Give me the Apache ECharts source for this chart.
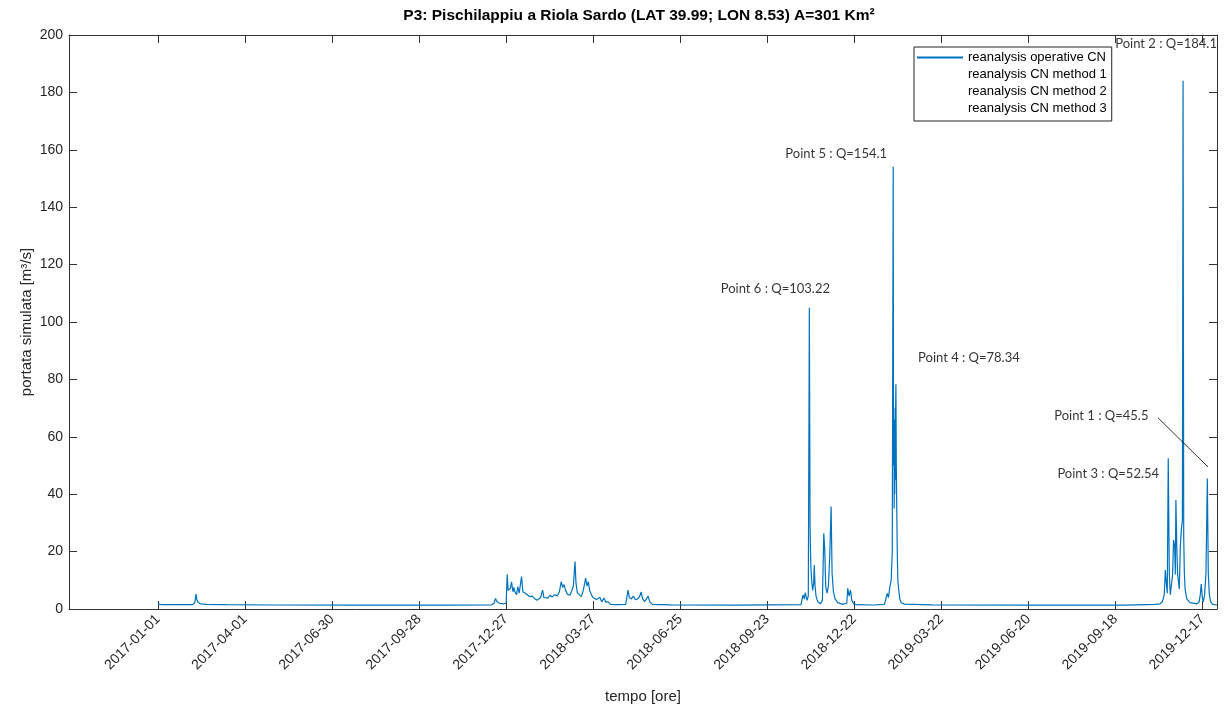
<!DOCTYPE html>
<html>
<head>
<meta charset="utf-8">
<script src="https://cdn.jsdelivr.net/npm/echarts@6/dist/echarts.min.js"></script>
<style>html,body{margin:0;padding:0;background:#fff}#c{width:1228px;height:711px}</style>
</head>
<body>
<div id="c"></div>
<script>
// hours since 2017-01-01 00:00
const hours = [0,120,864,912,946,965,996,1056,1200,1680,2880,4800,7200,8280,8340,8376,8412,8472,8568,8640,8666,8688,8707,8748,8774,8808,8832,8856,8899,8930,8964,9022,9055,9106,9163,9228,9288,9346,9413,9461,9494,9545,9576,9624,9677,9727,9785,9842,9910,9960,10008,10042,10075,10116,10159,10224,10272,10308,10349,10373,10406,10454,10505,10555,10613,10646,10680,10711,10754,10795,10836,10879,10920,10968,11011,11069,11117,11167,11234,11400,11606,11664,11698,11748,11798,11846,11897,11947,11988,12029,12079,12120,12163,12204,12269,12720,14400,15958,16006,16039,16063,16106,16138,16164,16181,16193,16205,16222,16246,16272,16286,16306,16330,16373,16438,16488,16522,16546,16570,16603,16637,16670,16704,16728,16762,16802,16870,16992,17093,17117,17150,17184,17218,17268,17323,17760,18029,18079,18096,18127,18163,18194,18221,18245,18254,18262,18269,18276,18283,18290,18298,18305,18312,18322,18329,18346,18360,18386,18410,18442,18526,19200,21600,24000,24739,24864,24922,24955,24972,24998,25022,25046,25070,25097,25121,25152,25178,25202,25229,25246,25260,25286,25303,25320,25344,25370,25394,25421,25438,25454,25471,25488,25529,25613,25781,25838,25865,25889,25915,25939,25973,26006,26040,26064,26090,26124,26172,26279];
const flow = [1.6,1.5,1.5,2.2,5.2,3.2,2.3,1.8,1.6,1.5,1.4,1.35,1.35,1.45,2.0,3.7,2.6,2.0,1.8,2.0,12.1,6.5,6.0,7.3,9.5,6.0,7.5,6.0,5.0,7.8,5.5,11.3,6.0,5.6,5.0,4.3,4.5,3.6,3.1,3.6,4.0,6.6,4.0,4.6,3.8,4.8,4.2,5.0,4.5,6.0,9.5,7.5,8.5,6.5,5.2,4.8,6.5,8.0,16.5,9.0,5.7,5.0,4.3,6.5,10.8,8.0,9.5,6.5,5.0,4.0,4.5,3.3,2.8,4.0,2.5,3.8,2.3,2.6,1.6,1.5,1.6,6.6,4.0,3.5,4.5,3.2,3.5,4.2,5.9,3.5,2.6,3.0,4.5,2.5,1.6,1.45,1.35,1.5,4.9,3.5,5.7,3.0,4.5,105,30,19.5,14,10,6.5,9,15.3,8,4.5,2.5,1.8,3,26.4,20.6,7.8,5.5,8,18.2,35.7,12.5,6,3.5,2.2,1.6,2.0,7.2,4.5,6.6,3.0,1.8,1.5,1.4,1.6,4.5,5.4,4.0,7.8,10,19.5,154.1,50,70,35,62,40,66,45,70,78.34,50,40,20,10,6,3.5,2.2,1.7,1.45,1.35,1.35,1.6,1.8,2.5,4.0,5.4,13.6,9,5.5,52.54,12,5,5.5,12,24,21.7,12,38,19.5,12,10,7,21.7,27.5,31,184.1,25,12,7,3.5,2.2,1.8,2.5,5,8.7,4,2.5,5,12.4,45.5,12.5,5,2.5,1.6,1.4];

const tickHours = [0,2160,4320,6480,8640,10800,12960,15120,17280,19440,21600,23760,25920];
const tickLabels = ['2017-01-01','2017-04-01','2017-06-30','2017-09-28','2017-12-27','2018-03-27','2018-06-25','2018-09-23','2018-12-22','2019-03-22','2019-06-20','2019-09-18','2019-12-17'];
const yTicks = [0,20,40,60,80,100,120,140,160,180,200];

const seriesNames = ['reanalysis operative CN','reanalysis CN method 1','reanalysis CN method 2','reanalysis CN method 3'];

const annNames = ['Point 1','Point 2','Point 3','Point 4','Point 5','Point 6'];
const annHours = [26040,25438,25070,18312,18245,16164];
const annValues = [45.5,184.1,52.54,78.34,154.1,103.22];
const annOffsets = [[-106,-63],[-17,-37],[-60,16],[73,-26],[-57,-13],[-34,-24]];
// leader line for Point 1: [hours, value] pairs
const leaderStart = [24817, 66.6];
const leaderEnd = [26057, 49.5];

const lineData = hours.map((h,i)=>[h, flow[i]]);
const annData = annNames.map((n,i)=>({
  value:[annHours[i], annValues[i]],
  name:n,
  label:{offset:annOffsets[i]}
}));

const axisColor = '#333333';
const tickFont = {fontFamily:'Liberation Sans', fontSize:14, color:'#262626'};
const chart = echarts.init(document.getElementById('c'), null, {renderer:'canvas'});
chart.setOption({
  animation:false,
  backgroundColor:'#ffffff',
  title:{
    text:'P3: Pischilappiu a Riola Sardo (LAT 39.99; LON 8.53) A=301 Km²',
    left:634, textAlign:'center', top:3,
    textStyle:{fontFamily:'Liberation Sans', fontWeight:'bold', fontSize:15.5, color:'#000'}
  },
  legend:{
    data:seriesNames,
    orient:'vertical',
    left:914, top:47,
    itemWidth:46, itemHeight:14, itemGap:4,
    padding:[4,5,6,2],
    borderColor:'#222', borderWidth:1,
    backgroundColor:'#fff',
    itemStyle:{opacity:0},
    textStyle:{fontFamily:'Liberation Sans', fontSize:13, color:'#000'}
  },
  grid:{left:69, right:11, top:35, bottom:102, containLabel:false, outerBoundsMode:'none'},
  xAxis:[{
    type:'value', min:-2208, max:26280,
    name:'tempo [ore]', nameLocation:'middle', nameGap:80, nameMoveOverlap:false,
    nameTextStyle:{fontFamily:'Liberation Sans', fontSize:15, color:'#262626'},
    axisLine:{show:true, onZero:false, lineStyle:{color:axisColor, width:1}},
    axisTick:{show:true, inside:true, length:8, customValues:tickHours, lineStyle:{color:axisColor}},
    axisLabel:Object.assign({show:true, customValues:tickHours, rotate:45, margin:8,
      formatter:(v)=>{const i=tickHours.indexOf(v); return i>=0?tickLabels[i]:'';}}, tickFont),
    splitLine:{show:false}
  },{
    type:'value', min:-2208, max:26280, position:'top',
    axisLine:{show:true, onZero:false, lineStyle:{color:axisColor, width:1}},
    axisTick:{show:true, inside:true, length:8, customValues:tickHours, lineStyle:{color:axisColor}},
    axisLabel:{show:false},
    splitLine:{show:false}
  }],
  yAxis:[{
    type:'value', min:0, max:200, interval:20,
    name:'portata simulata [m³/s]', nameLocation:'middle', nameGap:35, nameMoveOverlap:false,
    nameTextStyle:{fontFamily:'Liberation Sans', fontSize:15, color:'#262626'},
    axisLine:{show:true, onZero:false, lineStyle:{color:axisColor, width:1}},
    axisTick:{show:true, inside:true, length:8, lineStyle:{color:axisColor}},
    axisLabel:Object.assign({show:true, margin:6,
      formatter:(v)=> yTicks.indexOf(v)>=0 ? String(v) : ''}, tickFont),
    splitLine:{show:false}
  },{
    type:'value', min:0, max:200, interval:20, position:'right',
    axisLine:{show:true, onZero:false, lineStyle:{color:axisColor, width:1}},
    axisTick:{show:true, inside:true, length:8, lineStyle:{color:axisColor}},
    axisLabel:{show:false},
    splitLine:{show:false}
  }],
  series:[{
    name:seriesNames[0], type:'line', data:lineData,
    showSymbol:false, symbol:'none',
    lineStyle:{color:'#0072BD', width:1.2}, itemStyle:{color:'#0072BD'},
    xAxisIndex:0, yAxisIndex:0, z:3
  },{
    name:seriesNames[1], type:'line', data:[], symbol:'none',
    lineStyle:{color:'rgba(0,0,0,0)'}, itemStyle:{color:'rgba(0,0,0,0)'}
  },{
    name:seriesNames[2], type:'line', data:[], symbol:'none',
    lineStyle:{color:'rgba(0,0,0,0)'}, itemStyle:{color:'rgba(0,0,0,0)'}
  },{
    name:seriesNames[3], type:'line', data:[], symbol:'none',
    lineStyle:{color:'rgba(0,0,0,0)'}, itemStyle:{color:'rgba(0,0,0,0)'}
  },{
    name:'annotations', type:'scatter', data:annData,
    symbolSize:0, itemStyle:{color:'rgba(0,0,0,0)'},
    label:{show:true, position:'inside', align:'center', verticalAlign:'middle',
      fontFamily:'Lato', fontSize:13, color:'#000',
      formatter:(p)=> p.name + ' : Q=' + p.value[1]},
    markLine:{
      silent:true, symbol:'none', label:{show:false},
      lineStyle:{color:'#000', width:0.8, type:'solid'},
      data:[[{coord:leaderStart},{coord:leaderEnd}]]
    },
    z:5
  }]
});
</script>
</body>
</html>
